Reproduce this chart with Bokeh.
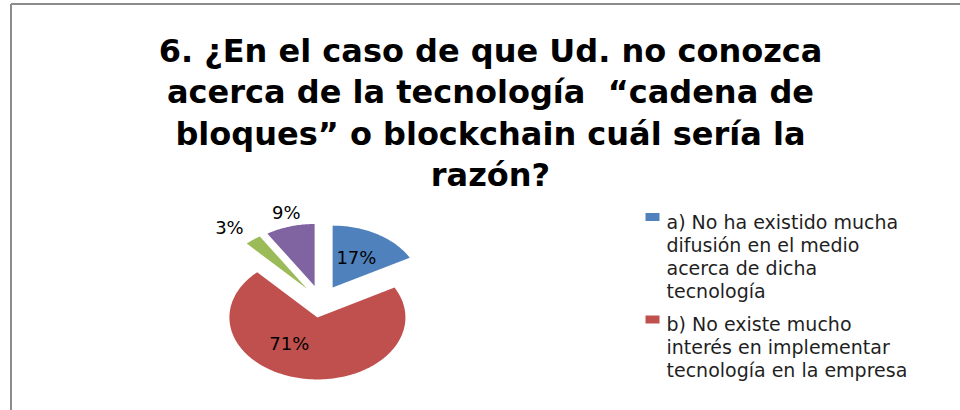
import math
from bokeh.plotting import figure
from bokeh.models import Range1d, ColumnDataSource
from bokeh.core.properties import value
from bokeh.embed import file_html
from bokeh.resources import INLINE

# ---------------- data ----------------
title_lines = [
    "6. ¿En el caso de que Ud. no conozca",
    "acerca de la tecnología \u00a0“cadena de",
    "bloques” o blockchain cuál sería la",
    "razón?",
]
categories = [
    "a) No ha existido mucha difusión en el medio acerca de dicha tecnología",
    "b) No existe mucho interés en implementar tecnología en la empresa",
    "c)",
    "d)",
]
percentages = [17, 71, 3, 9]
legend_lines = [
    ["a) No ha existido mucha", "difusión en el medio", "acerca de dicha", "tecnología"],
    ["b) No existe mucho", "interés en implementar", "tecnología en la empresa"],
]

# ---------------- style ----------------
colors = ["#4F81BD", "#C0504D", "#9BBB59", "#8064A2"]
W, H = 960, 410
ORIGIN = 0                     # page offset of the figure's top-left corner
CX, CY = 320.5, 301.0          # pie centre, page pixels
RX, RY = 88.0, 62.0            # pixels per data unit (elliptical pie)
EXPLODE = 0.26
label_r = [0.815, 0.766, 1.583, 1.481]
label_dang = [-1.0, 19.0, -3.3, 0.8]
FONT = "DejaVu Sans"


def dx(px):
    return (px - CX) / RX


def dy(py):
    return (CY - py) / RY


p = figure(
    width=W, height=H, output_backend="svg", toolbar_location=None,
    x_range=Range1d(dx(ORIGIN), dx(ORIGIN + W)),
    y_range=Range1d(dy(ORIGIN + H), dy(ORIGIN)),
    x_axis_type=None, y_axis_type=None, min_border=0,
)
p.min_border_left = p.min_border_right = p.min_border_top = p.min_border_bottom = 0
p.outline_line_color = None
p.grid.visible = False
p.background_fill_color = "white"
p.border_fill_color = "white"

# frame border (left + top)
p.segment(x0=[dx(10.5), dx(10.5)], y0=[dy(3.5), dy(3.5)],
          x1=[dx(10.5), dx(ORIGIN + W)], y1=[dy(ORIGIN + H), dy(3.5)],
          line_color="#8c8c8c", line_width=2)

# pie slices
total = float(sum(percentages))
xs, ys, lx, ly, ltxt = [], [], [], [], []
cum = 0.0
for i, v in enumerate(percentages):
    a0 = 2 * math.pi * cum / total
    a1 = 2 * math.pi * (cum + v) / total
    mid = (a0 + a1) / 2
    ox, oy = EXPLODE * math.sin(mid), EXPLODE * math.cos(mid)
    n = max(3, int(math.degrees(a1 - a0)) + 1)
    px_, py_ = [ox], [oy]
    for k in range(n + 1):
        a = a0 + (a1 - a0) * k / n
        px_.append(ox + math.sin(a))
        py_.append(oy + math.cos(a))
    xs.append(px_)
    ys.append(py_)
    la = mid + math.radians(label_dang[i])
    lx.append(label_r[i] * math.sin(la))
    ly.append(label_r[i] * math.cos(la))
    ltxt.append(f"{v}%")
    cum += v

p.patches(xs=xs, ys=ys, fill_color=colors, line_color=None)
p.text(x=lx, y=ly, text=ltxt, text_font=value(FONT), text_font_size="18px",
       text_color="#000000", text_align="center", text_baseline="middle")

# title
tsrc = ColumnDataSource(dict(
    x=[dx(490)] * len(title_lines),
    y=[dy(50 + 41.5 * i) for i in range(len(title_lines))],
    t=title_lines,
))
p.text(x="x", y="y", text="t", source=tsrc, text_font=value(FONT),
       text_font_size="32px", text_font_style="bold", text_color="#000000",
       text_align="center", text_baseline="alphabetic")

# legend (only first two entries visible, as in the original)
sq_x, sq_y, lg_x, lg_y, lg_t = [], [], [], [], []
starts = [221.0, 323.5]
for j, lines in enumerate(legend_lines):
    base = starts[j]
    sq_x.append(dx(652))
    sq_y.append(dy(base - 4.5))
    for k, line in enumerate(lines):
        lg_x.append(dx(666))
        lg_y.append(dy(base + 23.1 * k))
        lg_t.append(line)
p.rect(x=sq_x, y=sq_y, width=14, height=8, width_units="screen",
       height_units="screen", fill_color=colors[:len(legend_lines)], line_color=None)
p.text(x=lg_x, y=lg_y, text=lg_t, text_font=value(FONT), text_font_size="19px",
       text_color="#1f1f1f", text_align="left", text_baseline="alphabetic")

open("out.html", "w").write(file_html(p, INLINE))
